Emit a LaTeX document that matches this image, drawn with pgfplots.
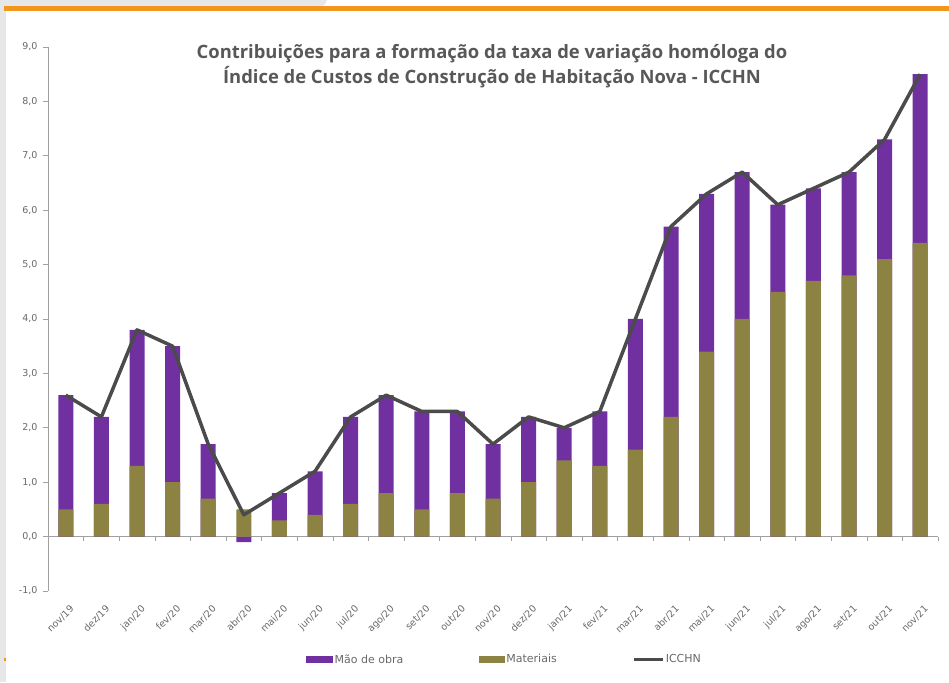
\documentclass[border=0pt]{standalone}
\usepackage{fontspec}
\setmainfont{DejaVu Sans}
\newfontfamily\titlefont{Open Sans}
\usepackage{pgfplots}
\pgfplotsset{compat=1.18}
\usepackage{pgfplotstable}

\definecolor{maoc}{RGB}{112,48,160}
\definecolor{matc}{RGB}{140,130,65}
\definecolor{linec}{RGB}{75,75,75}
\definecolor{txtc}{RGB}{105,105,105}
\definecolor{titc}{RGB}{88,88,88}
\definecolor{axc}{RGB}{160,160,160}
\definecolor{bgc}{RGB}{230,231,232}
\definecolor{orangec}{RGB}{243,150,30}

\pgfplotstableread{
x mat mao icchn
0  0.5  2.1 2.6
1  0.6  1.6 2.2
2  1.3  2.5 3.8
3  1.0  2.5 3.5
4  0.7  1.0 1.7
5  0.5 -0.1 0.4
6  0.3  0.5 0.8
7  0.4  0.8 1.2
8  0.6  1.6 2.2
9  0.8  1.8 2.6
10 0.5  1.8 2.3
11 0.8  1.5 2.3
12 0.7  1.0 1.7
13 1.0  1.2 2.2
14 1.4  0.6 2.0
15 1.3  1.0 2.3
16 1.6  2.4 4.0
17 2.2  3.5 5.7
18 3.4  2.9 6.3
19 4.0  2.7 6.7
20 4.5  1.6 6.1
21 4.7  1.7 6.4
22 4.8  1.9 6.7
23 5.1  2.2 7.3
24 5.4  3.1 8.5
}\datatable

\begin{document}
\begin{tikzpicture}
\useasboundingbox (0pt,0pt) rectangle (949pt,682pt);
\fill[white] (0pt,0pt) rectangle (949pt,682pt);
\fill[bgc] (0pt,0pt) rectangle (6pt,682pt);
\fill[bgc] (0pt,676pt) -- (322pt,676pt) .. controls (325pt,676pt) and (326pt,679pt) .. (327pt,682pt) -- (0pt,682pt) -- cycle;
\fill[orangec] (3.5pt,671pt) rectangle (949pt,676.3pt);
\fill[orangec] (4pt,21pt) rectangle (6pt,24pt);

\node[font=\titlefont\bfseries\fontsize{18.4}{25}\selectfont, text=titc, align=center] at (492pt,615.5pt)
  {Contribuições para a formação da taxa de variação homóloga do\\Índice de Custos de Construção de Habitação Nova - ICCHN};

\begin{axis}[
  at={(48pt,91pt)}, anchor=south west,
  scale only axis, width=890pt, height=544pt,
  xmin=-0.5, xmax=24.5, ymin=-1, ymax=9,
  ytick={-1,0,...,9},
  xtick={0,...,24},
  xticklabels={nov/19,dez/19,jan/20,fev/20,mar/20,abr/20,mai/20,jun/20,jul/20,ago/20,set/20,out/20,nov/20,dez/20,jan/21,fev/21,mar/21,abr/21,mai/21,jun/21,jul/21,ago/21,set/21,out/21,nov/21},
  axis y line*=left, axis x line*=bottom,
  x axis line style={draw=none}, xtick style={draw=none},
  y axis line style={draw=axc, line width=0.8pt},
  ytick style={draw=axc, line width=0.6pt},
  tick align=outside, major tick length=5pt,
  yticklabel style={font=\fontsize{9.5}{11}\selectfont, text=txtc, xshift=-2pt,
    /pgf/number format/.cd, fixed, fixed zerofill, precision=1, use comma, assume math mode=true},
  xticklabel style={font=\fontsize{9.5}{11}\selectfont, text=txtc, rotate=45, anchor=north east, xshift=0pt, yshift=-5pt},
  clip=false,
  legend columns=3,
  legend style={at={(axis description cs:0.2899,-0.126)}, anchor=west, draw=none, fill=none, inner sep=0pt,
    font=\fontsize{11}{12}\selectfont, text=txtc,
    nodes={inner xsep=1.5pt, inner ysep=1pt},
    /tikz/every odd column/.append style={column sep=0pt},
    /tikz/every even column/.append style={column sep=74pt}},
]
\draw[axc, line width=0.8pt] (axis cs:-0.5,0) -- (axis cs:24.5,0);
\pgfplotsinvokeforeach{0,...,24}{\draw[axc, line width=0.6pt] (axis cs:#1.5,0) -- ++(0pt,-4pt);}

\addplot[ybar, bar width=15pt, bar shift=0pt, fill=maoc, draw=none,
  legend image code/.code={\fill[maoc] (0pt,-3.5pt) rectangle (27pt,3.5pt);}]
  table[x=x, y expr={(\thisrow{mao}<0) ? (\thisrow{mao}) : (\thisrow{mat}+\thisrow{mao})}] {\datatable};
\addlegendentry{Mão de obra}
\addplot[ybar, bar width=15pt, bar shift=0pt, fill=matc, draw=none,
  legend image code/.code={\fill[matc] (0pt,-3.5pt) rectangle (26pt,3.5pt);}]
  table[x=x, y=mat] {\datatable};
\addlegendentry{Materiais}
\addplot[linec, line width=3.5pt, line join=round, mark=none,
  legend image code/.code={\draw[linec, line width=3pt] (0pt,0pt) -- (29pt,0pt);}]
  table[x=x, y=icchn] {\datatable};
\addlegendentry{ICCHN}
\end{axis}
\end{tikzpicture}
\end{document}
